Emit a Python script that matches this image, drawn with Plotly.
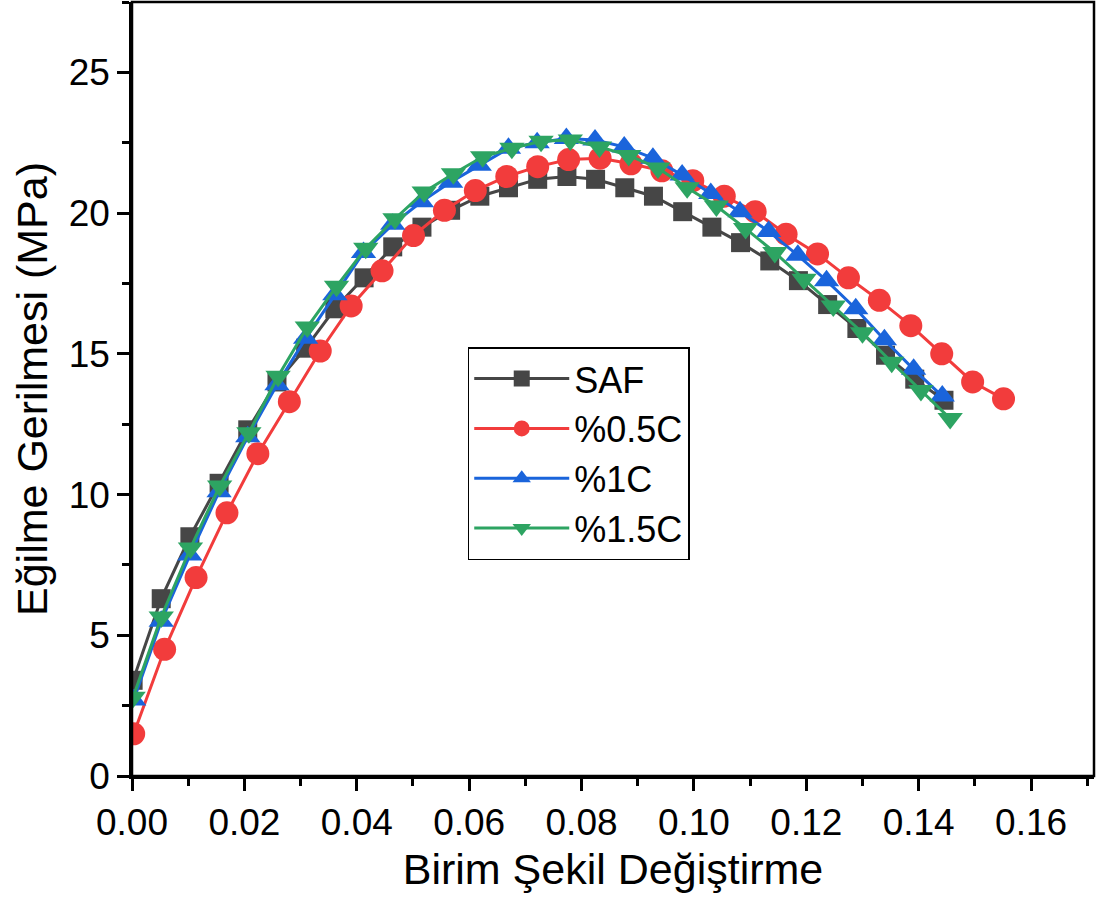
import plotly.graph_objects as go

# ---- data ----
saf_x = [0.0002, 0.0052, 0.0103, 0.0155, 0.0206, 0.0258, 0.0309, 0.0361, 0.0413, 0.0464,
         0.0516, 0.0567, 0.0619, 0.0670, 0.0722, 0.0774, 0.0825, 0.0877, 0.0928, 0.0980,
         0.1032, 0.1083, 0.1135, 0.1186, 0.1238, 0.1290, 0.1341, 0.1393, 0.1445]
saf_y = [3.4, 6.3, 8.5, 10.4, 12.3, 14.0, 15.2, 16.6, 17.7, 18.8,
         19.5, 20.1, 20.6, 20.9, 21.2, 21.3, 21.2, 20.9, 20.6, 20.05,
         19.5, 18.95, 18.3, 17.6, 16.75, 15.9, 14.95, 14.1, 13.35]

c05_x = [0.0003, 0.0058, 0.0114, 0.0169, 0.0224, 0.0280, 0.0335, 0.0390, 0.0445, 0.0501,
         0.0556, 0.0611, 0.0667, 0.0722, 0.0777, 0.0833, 0.0888, 0.0943, 0.0998, 0.1054,
         0.1109, 0.1164, 0.1220, 0.1275, 0.1330, 0.1386, 0.1441, 0.1496, 0.1551]
c05_y = [1.5, 4.5, 7.05, 9.35, 11.45, 13.3, 15.1, 16.7, 17.95, 19.2,
         20.1, 20.8, 21.3, 21.65, 21.9, 21.95, 21.75, 21.5, 21.15, 20.6,
         20.05, 19.25, 18.55, 17.7, 16.9, 16.0, 15.0, 14.0, 13.4]

c1_x = [0.0003, 0.0052, 0.0103, 0.0155, 0.0206, 0.0258, 0.0309, 0.0361, 0.0412, 0.0464,
        0.0515, 0.0567, 0.0618, 0.0670, 0.0721, 0.0773, 0.0824, 0.0876, 0.0927, 0.0979,
        0.1030, 0.1082, 0.1133, 0.1185, 0.1236, 0.1288, 0.1339, 0.1391, 0.1442]
c1_y = [2.7, 5.5, 7.85, 10.1, 12.05, 13.9, 15.55, 17.1, 18.6, 19.6,
        20.4, 21.1, 21.7, 22.3, 22.5, 22.65, 22.6, 22.35, 21.95, 21.35,
        20.7, 20.05, 19.35, 18.5, 17.6, 16.6, 15.5, 14.45, 13.5]

c15_x = [0.0002, 0.0052, 0.0104, 0.0156, 0.0208, 0.0260, 0.0312, 0.0364, 0.0416, 0.0468,
         0.0520, 0.0572, 0.0624, 0.0676, 0.0728, 0.0780, 0.0832, 0.0884, 0.0936, 0.0988,
         0.1040, 0.1092, 0.1144, 0.1196, 0.1248, 0.1300, 0.1352, 0.1404, 0.1456]
c15_y = [2.8, 5.65, 8.1, 10.3, 12.2, 14.2, 15.95, 17.4, 18.75, 19.8,
         20.75, 21.4, 22.0, 22.3, 22.55, 22.6, 22.35, 22.05, 21.6, 20.9,
         20.25, 19.45, 18.6, 17.65, 16.7, 15.75, 14.7, 13.7, 12.7]

series_names = ["SAF", "%0.5C", "%1C", "%1.5C"]
x_ticks = [0.00, 0.02, 0.04, 0.06, 0.08, 0.10, 0.12, 0.14, 0.16]
y_ticks = [0, 5, 10, 15, 20, 25]

# ---- styles ----
FONT = "Liberation Sans, Arial, sans-serif"
styles = [
    dict(color="#464646", symbol="square", size=19),
    dict(color="#f23c3c", symbol="circle", size=23),
    dict(color="#1a64db", symbol="triangle-up", size=22),
    dict(color="#2da462", symbol="triangle-down", size=22),
]
data = [(saf_x, saf_y), (c05_x, c05_y), (c1_x, c1_y), (c15_x, c15_y)]

fig = go.Figure()
for (xs, ys), name, st in zip(data, series_names, styles):
    fig.add_trace(go.Scatter(
        x=xs, y=ys, name=name, mode="lines+markers",
        line=dict(color=st["color"], width=3),
        marker=dict(symbol=st["symbol"], size=st["size"], color=st["color"],
                    line=dict(width=0)),
    ))

axis_common = dict(
    showline=True, linecolor="black", linewidth=2.5, mirror=False,
    ticks="outside", ticklen=12, tickwidth=2.5, tickcolor="black",
    showgrid=False, zeroline=False,
    tickfont=dict(family=FONT, size=37, color="black"),
)

fig.update_xaxes(
    range=[0, 0.1712], tickvals=x_ticks, tickformat=".2f",
    minor=dict(ticks="outside", ticklen=7, tickwidth=2.5, tickcolor="black", dtick=0.01, tick0=0),
    title=dict(text="Birim Şekil Değiştirme", font=dict(family=FONT, size=43, color="black"), standoff=12),
    **axis_common,
)
fig.update_yaxes(
    range=[0, 27.5], tickvals=y_ticks,
    minor=dict(ticks="outside", ticklen=7, tickwidth=2.5, tickcolor="black", dtick=2.5, tick0=0),
    title=dict(text="Eğilme Gerilmesi (MPa)", font=dict(family=FONT, size=43, color="black"), standoff=8),
    **axis_common,
)

# plain frame on top and right (no ticks there)
fig.add_shape(type="rect", xref="paper", yref="paper", x0=0, y0=0, x1=1, y1=1,
              line=dict(color="black", width=2.5), fillcolor="rgba(0,0,0,0)", layer="above")

fig.update_layout(
    width=1101, height=903,
    margin=dict(l=132, r=7, t=2, b=127),
    plot_bgcolor="white", paper_bgcolor="white",
    showlegend=True,
    legend=dict(
        x=0.349, y=0.554, xanchor="left", yanchor="top",
        bgcolor="white", bordercolor="black", borderwidth=1.5,
        font=dict(family=FONT, size=36, color="black"),
        itemwidth=95, tracegroupgap=0,
    ),
)

fig.write_html("out.html")
